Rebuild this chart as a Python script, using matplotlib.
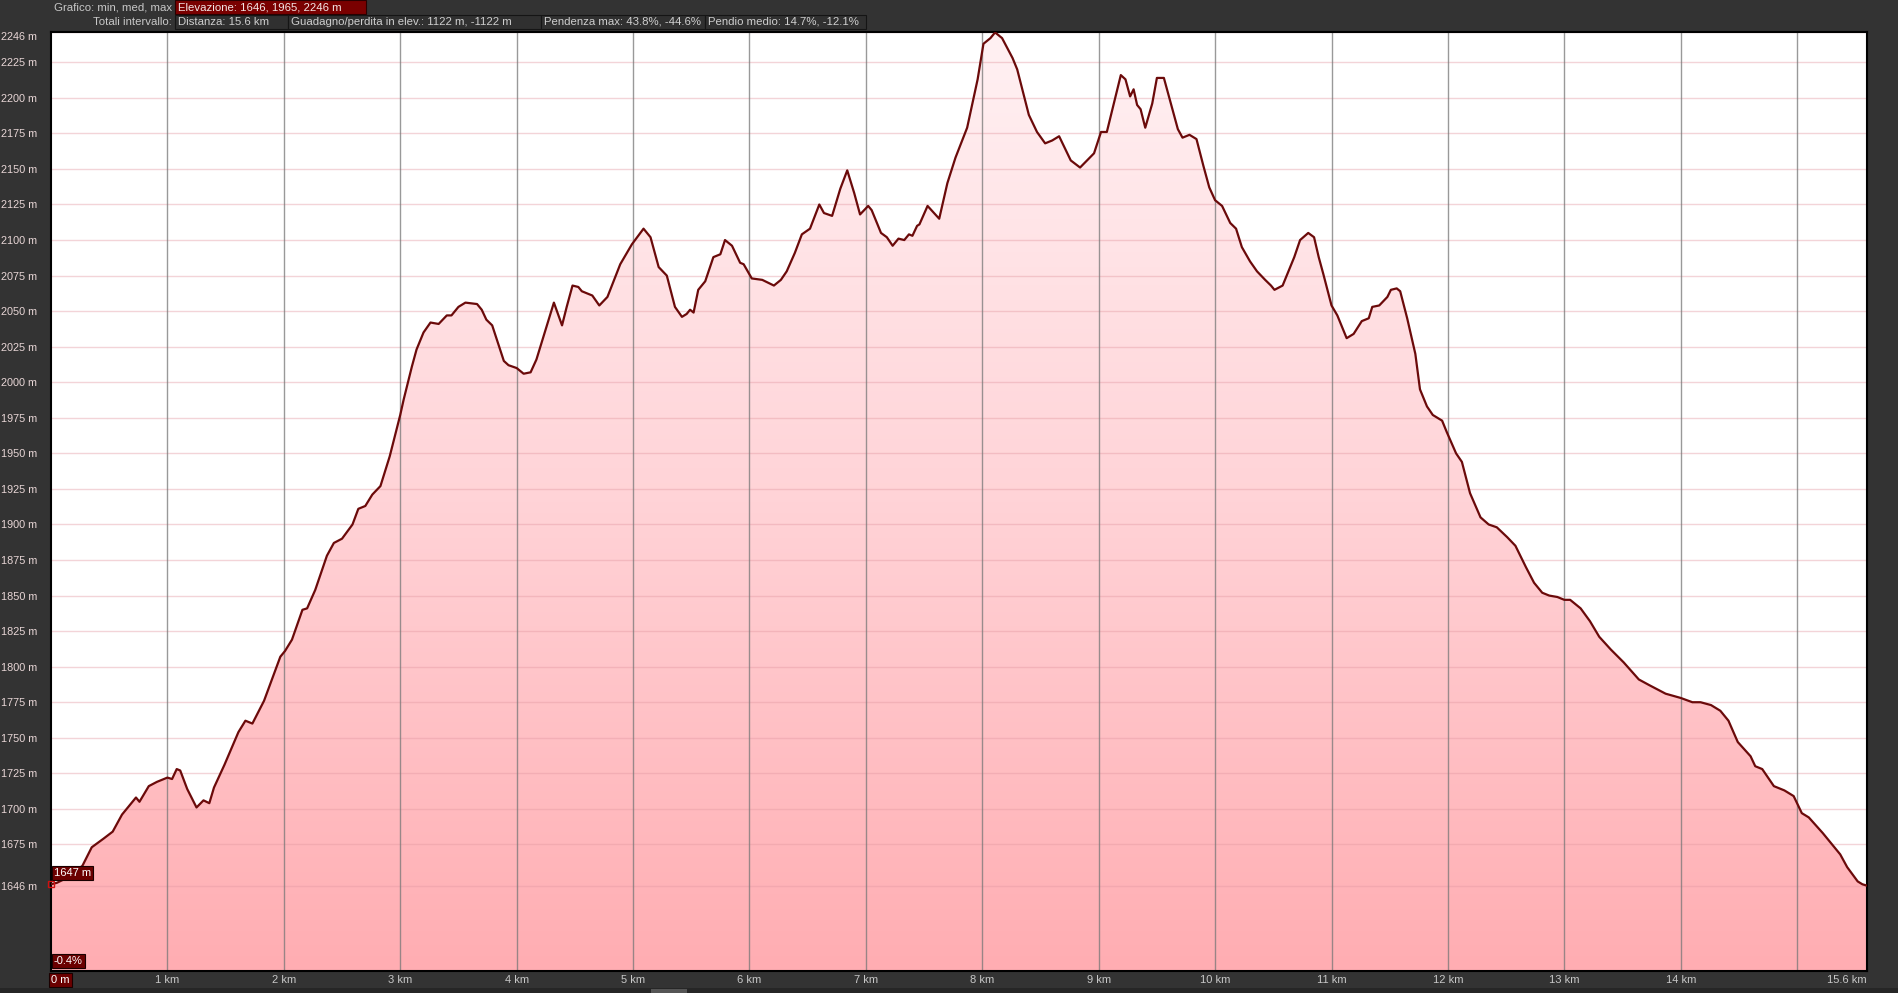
import numpy as np
import matplotlib
matplotlib.use('Agg')
import matplotlib.pyplot as plt
from matplotlib.patches import Rectangle, Polygon
from matplotlib.colors import LinearSegmentedColormap

# profilo altimetrico (km, m)
dist_km = [0.00, 0.05, 0.15, 0.27, 0.35, 0.45, 0.53, 0.61, 0.73, 0.76, 0.84, 0.91,
           1.00, 1.04, 1.08, 1.11, 1.17, 1.25, 1.31, 1.36, 1.40, 1.49, 1.61, 1.67,
           1.73, 1.83, 1.97, 2.01, 2.07, 2.16, 2.20, 2.27, 2.37, 2.43, 2.50, 2.59,
           2.64, 2.70, 2.76, 2.83, 2.91, 3.00, 3.03, 3.10, 3.14, 3.20, 3.26, 3.33,
           3.40, 3.44, 3.50, 3.56, 3.66, 3.70, 3.74, 3.79, 3.89, 3.93, 4.00, 4.06,
           4.12, 4.17, 4.26, 4.32, 4.39, 4.43, 4.48, 4.53, 4.56, 4.65, 4.71, 4.78,
           4.89, 4.99, 5.09, 5.15, 5.22, 5.29, 5.36, 5.42, 5.46, 5.49, 5.52, 5.56,
           5.62, 5.69, 5.75, 5.79, 5.85, 5.92, 5.95, 6.02, 6.11, 6.21, 6.27, 6.32,
           6.39, 6.45, 6.52, 6.60, 6.64, 6.71, 6.78, 6.84, 6.90, 6.95, 7.02, 7.05,
           7.13, 7.18, 7.23, 7.28, 7.33, 7.37, 7.40, 7.44, 7.46, 7.53, 7.63, 7.70,
           7.77, 7.87, 7.96, 8.01, 8.07, 8.11, 8.17, 8.26, 8.30, 8.40, 8.47, 8.54,
           8.60, 8.66, 8.76, 8.84, 8.96, 9.02, 9.07, 9.13, 9.19, 9.23, 9.27, 9.30,
           9.33, 9.36, 9.40, 9.46, 9.50, 9.56, 9.62, 9.68, 9.72, 9.78, 9.84, 9.90,
           9.95, 10.00, 10.06, 10.13, 10.18, 10.23, 10.30, 10.36, 10.43, 10.48, 10.51, 10.58,
           10.62, 10.68, 10.73, 10.80, 10.85, 10.89, 10.93, 11.00, 11.05, 11.13, 11.19, 11.26,
           11.32, 11.35, 11.41, 11.48, 11.51, 11.56, 11.59, 11.65, 11.72, 11.76, 11.82, 11.87,
           11.95, 11.99, 12.07, 12.12, 12.19, 12.28, 12.35, 12.42, 12.51, 12.58, 12.67, 12.74,
           12.81, 12.87, 12.94, 13.00, 13.05, 13.14, 13.22, 13.30, 13.40, 13.51, 13.64, 13.73,
           13.80, 13.87, 14.00, 14.10, 14.17, 14.26, 14.34, 14.41, 14.49, 14.60, 14.64, 14.70,
           14.80, 14.89, 14.97, 15.04, 15.10, 15.22, 15.29, 15.37, 15.43, 15.52, 15.56, 15.60]
elev_m = [1647, 1648, 1652, 1660, 1673, 1679, 1684, 1696, 1708, 1705, 1716, 1719,
          1722, 1721, 1728, 1727, 1714, 1701, 1706, 1704, 1715, 1731, 1754, 1762,
          1760, 1776, 1807, 1811, 1819, 1840, 1841, 1854, 1878, 1887, 1890, 1900,
          1911, 1913, 1921, 1927, 1948, 1977, 1988, 2011, 2023, 2035, 2042, 2041,
          2047, 2047, 2053, 2056, 2055, 2051, 2044, 2040, 2015, 2012, 2010, 2006,
          2007, 2016, 2040, 2056, 2040, 2053, 2068, 2067, 2064, 2061, 2054, 2060,
          2083, 2097, 2108, 2102, 2081, 2075, 2053, 2046, 2048, 2051, 2049, 2065,
          2071, 2088, 2090, 2100, 2096, 2084, 2083, 2073, 2072, 2068, 2072, 2078,
          2091, 2104, 2108, 2125, 2119, 2117, 2136, 2149, 2133, 2118, 2124, 2121,
          2105, 2102, 2096, 2101, 2100, 2104, 2103, 2110, 2111, 2124, 2115, 2140,
          2158, 2179, 2213, 2238, 2242, 2246, 2242, 2228, 2220, 2188, 2176, 2168,
          2170, 2173, 2156, 2151, 2161, 2176, 2176, 2196, 2216, 2213, 2201, 2206,
          2195, 2192, 2179, 2196, 2214, 2214, 2196, 2178, 2172, 2174, 2171, 2152,
          2137, 2128, 2124, 2112, 2108, 2095, 2085, 2078, 2072, 2068, 2065, 2068,
          2076, 2088, 2100, 2105, 2102, 2088, 2076, 2054, 2047, 2031, 2034, 2043,
          2045, 2053, 2054, 2060, 2065, 2066, 2064, 2045, 2020, 1995, 1983, 1977,
          1973, 1965, 1950, 1944, 1922, 1905, 1900, 1898, 1891, 1885, 1870, 1859,
          1852, 1850, 1849, 1847, 1847, 1841, 1832, 1821, 1812, 1803, 1791, 1787,
          1784, 1781, 1778, 1775, 1775, 1773, 1769, 1762, 1747, 1737, 1730, 1728,
          1716, 1713, 1709, 1697, 1694, 1683, 1676, 1668, 1659, 1649, 1647, 1646]

y_ticks = [1646] + list(range(1675, 2226, 25)) + [2246]
x_ticks = list(range(0, 15)) + [15.6]
x_grid = list(range(1, 16))
grade_label = '-0.4%'

header_row1 = [('Elevazione: 1646, 1965, 2246 m', 175, 366)]
header_row2 = [('Distanza: 15.6 km', 175, 288),
               ('Guadagno/perdita in elev.: 1122 m, -1122 m', 288, 541),
               ('Pendenza max: 43.8%, -44.6%', 541, 705),
               ('Pendio medio: 14.7%, -12.1%', 705, 866)]

W, H = 1899, 993
plt.rcParams['font.family'] = ['Liberation Sans', 'DejaVu Sans']

fig = plt.figure(figsize=(W / 100, H / 100), dpi=100, facecolor='#333333')
ax = fig.add_axes([51 / W, (H - 971) / H, (1867 - 51) / W, (971 - 32) / H])
ax.set_facecolor('white')
ax.set_xlim(0, 15.6)
ax.set_ylim(1586, 2246.3)


def fx(x):
    return x / W


def fy(y):
    return 1 - y / H


# riempimento sfumato sotto il profilo
cmap = LinearSegmentedColormap.from_list('prof', ['#ffadb2', '#ffd3d7', '#fff1f3'])
grad = np.linspace(0, 1, 256).reshape(-1, 1)
im = ax.imshow(grad, extent=[0, 15.6, 1586, 2246.3], origin='lower', cmap=cmap,
               aspect='auto', zorder=1)
verts = list(zip(dist_km, elev_m)) + [(dist_km[-1], 1586), (dist_km[0], 1586)]
poly = Polygon(verts, closed=True, facecolor='none', edgecolor='none')
ax.add_patch(poly)
im.set_clip_path(poly)

for y in y_ticks:
    ax.axhline(y, color='#e39aa3', alpha=0.42, lw=1, zorder=2)
for x in x_grid:
    ax.axvline(x, color='#777777', alpha=0.75, lw=1, zorder=2)

ax.plot(dist_km, elev_m, color='#6b0a0a', lw=1.6, zorder=3, solid_joinstyle='round')
ax.plot(dist_km[0], elev_m[0], marker='s', mfc='none', mec='#d01010', ms=5,
        mew=1, clip_on=False, zorder=4)

for s in ax.spines.values():
    s.set_color('black')
    s.set_linewidth(1.5)

ax.set_yticks(y_ticks)
ax.set_yticklabels([f'{v} m' for v in y_ticks])
ax.tick_params(axis='y', length=0, pad=10, labelsize=7.8, labelcolor='#e8d6d6')
ax.get_yticklabels()[-1].set_verticalalignment('top')

xlabels = ['0 m'] + [f'{v} km' for v in x_ticks[1:-1]] + ['15.6 km']
ax.set_xticks(x_ticks)
ax.set_xticklabels(xlabels)
ax.tick_params(axis='x', length=0, pad=3, labelsize=8, labelcolor='#c8c8c8')
xl = ax.get_xticklabels()
xl[0].set_horizontalalignment('left')
xl[0].set_color('white')
xl[0].set_bbox(dict(boxstyle='square,pad=0.2', facecolor='#6b0000', edgecolor='#1a0000', lw=0.8))
xl[-1].set_horizontalalignment('right')

box = dict(boxstyle='square,pad=0.2', facecolor='#6b0000', edgecolor='#1a0000', lw=0.8)
ax.annotate(f'{elev_m[0]} m', xy=(dist_km[0], elev_m[0]), xytext=(3, 11),
            textcoords='offset pixels', ha='left', va='center', fontsize=8,
            color='white', bbox=box, zorder=5)
ax.annotate(grade_label, xy=(0, 0), xycoords='axes fraction', xytext=(3, 10),
            textcoords='offset pixels', ha='left', va='center', fontsize=8,
            color='white', bbox=box, zorder=5)

# intestazione
fig.text(fx(172), fy(7), 'Grafico: min, med, max', ha='right', va='center',
         fontsize=8.2, color='#c8c8c8')
for label, x0, x1 in header_row1:
    fig.patches.append(Rectangle((fx(x0), fy(14)), fx(x1 - x0), 14 / H,
                                 transform=fig.transFigure, facecolor='#7a0000',
                                 edgecolor='#2a0000', lw=0.8))
    fig.text(fx(x0 + 3), fy(7), label, ha='left', va='center', fontsize=8.2,
             color='#f2e6e6')
fig.text(fx(172), fy(22), 'Totali intervallo:', ha='right', va='center',
         fontsize=8.2, color='#c8c8c8')
for label, x0, x1 in header_row2:
    fig.patches.append(Rectangle((fx(x0), fy(29)), fx(x1 - x0), 14 / H,
                                 transform=fig.transFigure, facecolor='#303030',
                                 edgecolor='#151515', lw=0.8))
    fig.text(fx(x0 + 3), fy(22), label, ha='left', va='center', fontsize=8.2,
             color='#cfcfcf')

# barra in fondo
fig.patches.append(Rectangle((0, 0), 1, 5 / H, transform=fig.transFigure,
                             facecolor='#262626', edgecolor='none'))
fig.patches.append(Rectangle((fx(651), 0), fx(36), 4 / H, transform=fig.transFigure,
                             facecolor='#555555', edgecolor='none'))

fig.savefig('out.png', dpi=100, facecolor=fig.get_facecolor())
